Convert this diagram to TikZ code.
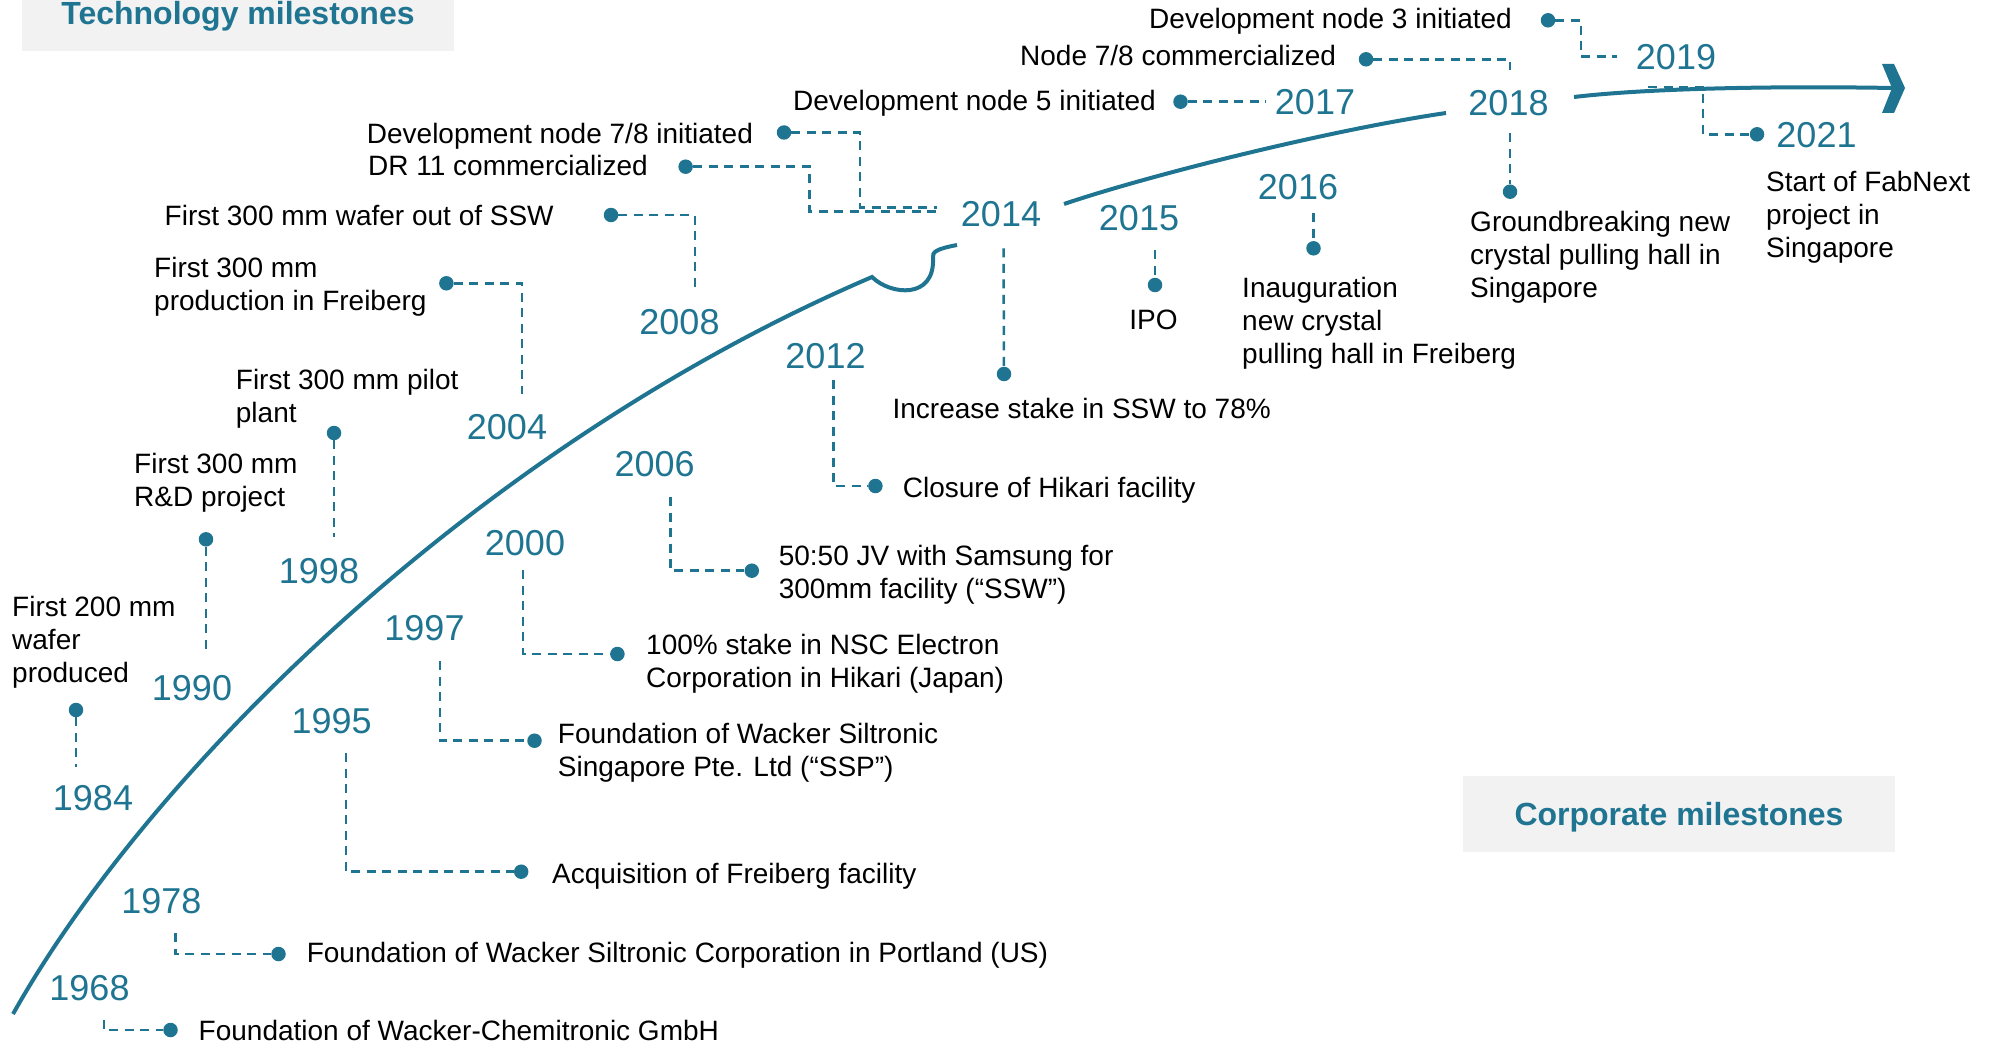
\documentclass[tikz,border=0pt]{standalone}
\usepackage{fontspec}
\setmainfont{Liberation Sans}

\definecolor{brand}{RGB}{31,117,145}
\definecolor{boxgray}{RGB}{242,242,242}

\tikzset{
	mdot/.style = {circle, fill = brand, inner sep = 0pt, minimum size = 14.5pt},
	year/.style = {text = brand, inner sep = 0pt, font = \fontsize{36}{40}\selectfont},
	event/.style = {inner sep = 0pt, anchor = base west, align = left, font = \fontsize{28}{33}\selectfont},
	conn/.style = {draw = brand, line width = 2.5pt, dash pattern = on 9pt off 6.5pt},
	timeline/.style = {draw = brand, line width = 4pt},
	titlebox/.style = {fill = boxgray, text = brand, inner sep = 0pt, minimum width = 432pt, minimum height = 76pt,
		text height = 23pt, text depth = 0pt, font = \bfseries\fontsize{32}{36}\selectfont}
}

\begin{document}
\begin{tikzpicture}[x = 1pt, y = -1pt]

	\useasboundingbox (0, 0) rectangle (1993, 1043);

	% Titles
	
	\node [titlebox] (tech) at (238, 13) {Technology milestones};
	\node [titlebox] (corp) at (1679, 814) {Corporate milestones};
	
	% Timeline
	
	\draw [timeline] (13, 1014) .. controls (150, 770) and (480, 445) .. (872, 277)
		.. controls (890, 295) and (935, 300) .. (933, 258)
		.. controls (932, 252) and (936, 249) .. (957, 245);
	\draw [timeline] (1064, 204) .. controls (1150, 175) and (1330, 130) .. (1446, 113);
	\draw [timeline] (1574, 97) .. controls (1650, 88) and (1780, 86) .. (1893, 88);
	\fill [brand] (1882, 64) -- (1894, 64) -- (1905, 88) -- (1894, 113) -- (1882, 113) -- (1892, 88) -- cycle;
	
	% 1968
	
	\node [year] (y1968) at (89.5, 987.7) {1968};
	\node [mdot] (d1968) at (170.5, 1030) {};
	\coordinate (e1968) at (103.8, 1020);
	\draw [conn] (e1968) |- (d1968);
	\node [event] (t1968) at (198.5, 1040) {Foundation of Wacker-Chemitronic GmbH};
	
	% 1978
	
	\node [year] (y1978) at (161.3, 901) {1978};
	\node [mdot] (d1978) at (278.5, 954) {};
	\coordinate (e1978) at (175.4, 933);
	\draw [conn] (e1978) |- (d1978);
	\node [event] (t1978) at (306.6, 962) {Foundation of Wacker Siltronic Corporation in Portland (US)};
	
	% 1984
	
	\node [year] (y1984) at (93, 798) {1984};
	\node [mdot] (d1984) at (76, 710) {};
	\coordinate (e1984) at (76, 767);
	\draw [conn] (d1984) -- (e1984);
	\node [event] (t1984) at (12, 682) {First 200 mm\\wafer\\produced};
	
	% 1990
	
	\node [year] (y1990) at (192, 688) {1990};
	\node [mdot] (d1990) at (206, 539.3) {};
	\coordinate (e1990) at (206, 653);
	\draw [conn] (d1990) -- (e1990);
	\node [event] (t1990) at (134, 506) {First 300 mm\\R\&D project};
	
	% 1995
	
	\node [year] (y1995) at (331.6, 720.8) {1995};
	\node [mdot] (d1995) at (521.2, 871.7) {};
	\coordinate (e1995) at (345.8, 753);
	\draw [conn] (e1995) |- (d1995);
	\node [event] (t1995) at (552, 883) {Acquisition of Freiberg facility};
	
	% 1997
	
	\node [year] (y1997) at (424.5, 628.5) {1997};
	\node [mdot] (d1997) at (534.5, 740.7) {};
	\coordinate (e1997) at (439.8, 661);
	\draw [conn] (e1997) |- (d1997);
	\node [event] (t1997) at (557.7, 776) {Foundation of Wacker Siltronic\\Singapore Pte. Ltd (“SSP”)};
	
	% 1998
	
	\node [year] (y1998) at (319, 571) {1998};
	\node [mdot] (d1998) at (334, 433) {};
	\coordinate (e1998) at (334, 537);
	\draw [conn] (d1998) -- (e1998);
	\node [event] (t1998) at (235.7, 422) {First 300 mm pilot\\plant};
	
	% 2000
	
	\node [year] (y2000) at (525, 543.5) {2000};
	\node [mdot] (d2000) at (617.4, 654) {};
	\coordinate (e2000) at (523, 570);
	\draw [conn] (e2000) |- (d2000);
	\node [event] (t2000) at (646, 687) {100\% stake in NSC Electron\\Corporation in Hikari (Japan)};
	
	% 2004
	
	\node [year] (y2004) at (507, 427.5) {2004};
	\node [mdot] (d2004) at (446.4, 283.3) {};
	\coordinate (e2004) at (522, 394);
	\draw [conn] (d2004) -| (e2004);
	\node [event] (t2004) at (154, 310) {First 300 mm\\production in Freiberg};
	
	% 2006
	
	\node [year] (y2006) at (654.6, 464.5) {2006};
	\node [mdot] (d2006) at (751.8, 570.7) {};
	\coordinate (e2006) at (670.5, 497);
	\draw [conn] (e2006) |- (d2006);
	\node [event] (t2006) at (778.6, 598) {50:50 JV with Samsung for\\300mm facility (“SSW”)};
	
	% 2008
	
	\node [year] (y2008) at (679.5, 322.5) {2008};
	\node [mdot] (d2008) at (611, 215) {};
	\coordinate (e2008) at (695, 290);
	\draw [conn] (d2008) -| (e2008);
	\node [event] (t2008) at (164.5, 225) {First 300 mm wafer out of SSW};
	
	% 2012
	
	\node [year] (y2012) at (825.5, 356) {2012};
	\node [mdot] (d2012) at (875.4, 486) {};
	\coordinate (e2012) at (833.5, 380);
	\draw [conn] (e2012) |- (d2012);
	\node [event] (t2012) at (902.7, 497) {Closure of Hikari facility};
	
	% 2014
	
	\node [year] (y2014) at (1001, 214.5) {2014};
	\node [mdot] (d2014a) at (784, 132.5) {};
	\node [mdot] (d2014b) at (685.6, 166.7) {};
	\node [mdot] (d2014c) at (1004, 374) {};
	\coordinate (e2014a) at (937, 207.3);
	\coordinate (e2014b) at (936, 211.7);
	\coordinate (e2014c) at (1003.5, 248.3);
	\draw [conn] (d2014a) -- ++(76, 0) |- (e2014a);
	\draw [conn] (d2014b) -- ++(124, 0) |- (e2014b);
	\draw [conn] (e2014c) -- (d2014c);
	\node [event] (t2014a) at (366.7, 143.4) {Development node 7/8 initiated};
	\node [event] (t2014b) at (368, 176) {DR 11 commercialized};
	\node [event] (t2014c) at (892.4, 418) {Increase stake in SSW to 78\%};
	
	% 2015
	
	\node [year] (y2015) at (1139, 218.5) {2015};
	\node [mdot] (d2015) at (1155, 285) {};
	\coordinate (e2015) at (1155, 250);
	\draw [conn] (e2015) -- (d2015);
	\node [event, anchor = base] (t2015) at (1153.5, 329) {IPO};
	
	% 2016
	
	\node [year] (y2016) at (1298, 186.7) {2016};
	\node [mdot] (d2016) at (1313.5, 248.3) {};
	\coordinate (e2016) at (1313.5, 213);
	\draw [conn] (e2016) -- (d2016);
	\node [event] (t2016) at (1242, 363) {Inauguration\\new crystal\\pulling hall in Freiberg};
	
	% 2017
	
	\node [year] (y2017) at (1315, 101.7) {2017};
	\node [mdot] (d2017) at (1180.5, 101.7) {};
	\coordinate (e2017) at (1266, 101.7);
	\draw [conn] (d2017) -- (e2017);
	\node [event] (t2017) at (793, 111) {Development node 5 initiated};
	
	% 2018
	
	\node [year] (y2018) at (1508.5, 102.7) {2018};
	\node [mdot] (d2018a) at (1366, 59.3) {};
	\node [mdot] (d2018b) at (1510, 191.7) {};
	\coordinate (e2018a) at (1510, 70);
	\coordinate (e2018b) at (1510, 133.3);
	\draw [conn] (d2018a) -| (e2018a);
	\draw [conn] (e2018b) -- (d2018b);
	\node [event] (t2018a) at (1020, 66) {Node 7/8 commercialized};
	\node [event] (t2018b) at (1470, 297) {Groundbreaking new\\crystal pulling hall in\\Singapore};
	
	% 2019
	
	\node [year] (y2019) at (1676, 57) {2019};
	\node [mdot] (d2019) at (1548, 20.3) {};
	\coordinate (e2019) at (1617, 56.7);
	\draw [conn] (d2019) -- ++(33, 0) |- (e2019);
	\node [event] (t2019) at (1149, 29) {Development node 3 initiated};
	
	% 2021
	
	\node [year] (y2021) at (1816.5, 135) {2021};
	\node [mdot] (d2021) at (1757, 134.3) {};
	\coordinate (e2021) at (1648, 87);
	\draw [conn] (e2021) -- ++(55, 0) |- (d2021);
	\node [event] (t2021) at (1766, 257) {Start of FabNext\\project in\\Singapore};

\end{tikzpicture}
\end{document}
